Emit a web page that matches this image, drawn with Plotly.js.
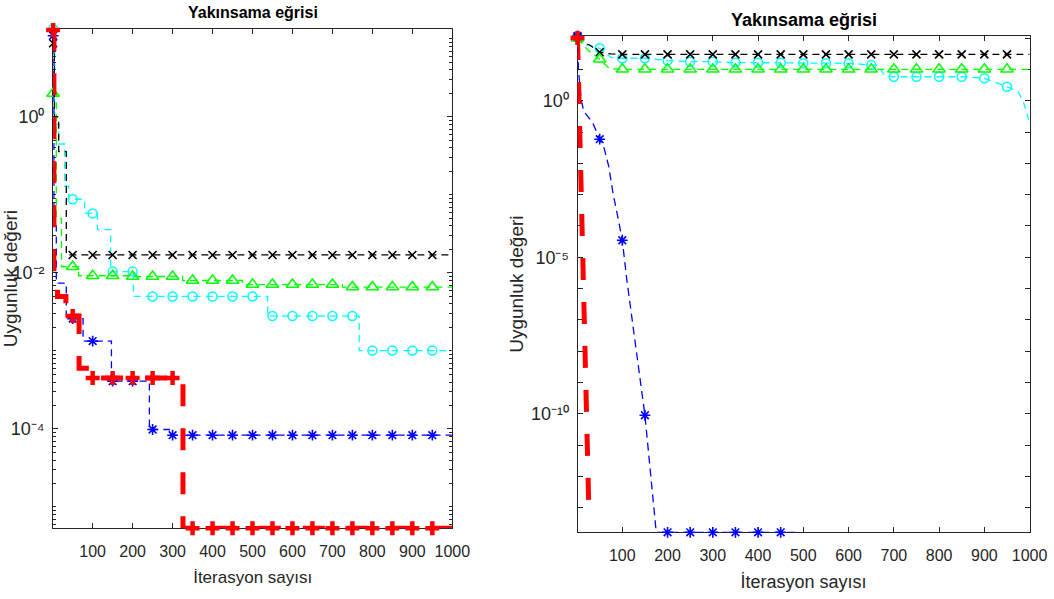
<!DOCTYPE html>
<html>
<head>
<meta charset="utf-8">
<script src="https://cdn.plot.ly/plotly-3.0.1.min.js"></script>
<style>
html,body{margin:0;padding:0;background:#fff;}
#chart{width:1054px;height:599px;}
</style>
</head>
<body>
<div id="chart"></div>
<script>
// ---------------- DATA ----------------
const chartTitle = 'Yakınsama eğrisi';
const xTitle = 'İterasyon sayısı';
const yTitle = 'Uygunluk değeri';
const iterTicks = [100, 200, 300, 400, 500, 600, 700, 800, 900, 1000];

// Left panel (step curves)
const blackL_x = [1, 4, 15, 34, 50, 100, 150, 200, 250, 300, 350, 400, 450, 500, 550, 600, 650, 700, 750, 800, 850, 900, 950, 1000];
const blackL_y = [8.8, 1.0, 0.36, 0.017, 0.017, 0.017, 0.017, 0.017, 0.017, 0.017, 0.017, 0.017, 0.017, 0.017, 0.017, 0.017, 0.017, 0.017, 0.017, 0.017, 0.017, 0.017, 0.017, 0.017];

const greenL_x = [1, 9, 22, 50, 65, 100, 150, 200, 250, 300, 325, 350, 400, 450, 475, 500, 550, 600, 650, 700, 725, 750, 800, 850, 900, 950, 1000];
const greenL_y = [2.0, 0.05, 0.012, 0.012, 0.0092, 0.0092, 0.0092, 0.0090, 0.0090, 0.0090, 0.0080, 0.0080, 0.0080, 0.0080, 0.0071, 0.0071, 0.0071, 0.0071, 0.0071, 0.0071, 0.0066, 0.0066, 0.0066, 0.0066, 0.0066, 0.0066, 0.0066];

const cyanL_x = [1, 5, 15, 30, 40, 50, 80, 100, 112, 145, 150, 200, 202, 250, 300, 350, 400, 450, 500, 538, 550, 600, 650, 700, 750, 767, 800, 850, 900, 950, 1000];
const cyanL_y = [13.4, 0.8, 0.45, 0.13, 0.089, 0.088, 0.058, 0.058, 0.036, 0.0104, 0.0104, 0.0104, 0.0050, 0.0050, 0.0050, 0.0050, 0.0050, 0.0050, 0.0050, 0.0028, 0.0028, 0.0028, 0.0028, 0.0028, 0.0028, 0.00101, 0.00101, 0.00101, 0.00101, 0.00101, 0.00101];

const blueL_x = [1, 3, 9, 34, 50, 76, 100, 147, 150, 200, 242, 250, 292, 300, 350, 400, 450, 500, 550, 600, 650, 700, 750, 800, 850, 900, 950, 1000];
const blueL_y = [11, 0.04, 0.0074, 0.0026, 0.0026, 0.00134, 0.00134, 0.00041, 0.00041, 0.00041, 0.0000985, 0.0000985, 0.0000832, 0.0000832, 0.0000832, 0.0000832, 0.0000832, 0.0000832, 0.0000832, 0.0000832, 0.0000832, 0.0000832, 0.0000832, 0.0000832, 0.0000832, 0.0000832, 0.0000832, 0.0000832];

const redL_x = [1, 3, 12, 33, 50, 66, 95, 100, 150, 200, 250, 300, 326, 350, 400, 450, 500, 550, 600, 650, 700, 750, 800, 850, 900, 950, 1000];
const redL_y = [13, 0.0075, 0.0050, 0.0028, 0.0028, 0.00060, 0.00045, 0.00045, 0.00045, 0.00045, 0.00045, 0.00045, 5.33e-6, 5.33e-6, 5.33e-6, 5.33e-6, 5.33e-6, 5.33e-6, 5.33e-6, 5.33e-6, 5.33e-6, 5.33e-6, 5.33e-6, 5.33e-6, 5.33e-6, 5.33e-6, 5.33e-6];

// Right panel
const blackR_x = [1, 10, 28, 50, 75, 100, 150, 200, 250, 300, 350, 400, 450, 500, 550, 600, 650, 700, 750, 800, 850, 900, 950, 1000];
const blackR_y = [105, 75, 60, 35, 31, 30, 30, 30, 30, 30, 30, 30, 30, 30, 30, 30, 30, 30, 30, 30, 30, 30, 30, 30];

const greenR_x = [1, 25, 50, 72, 100, 150, 200, 250, 300, 350, 400, 450, 500, 550, 600, 650, 700, 750, 800, 850, 900, 950, 1000];
const greenR_y = [98, 40, 21, 10.5, 10, 10, 10, 10, 10, 10, 10, 10, 10, 10, 10, 10, 10, 10, 10, 10, 10, 10, 10];

const cyanR_x = [1, 20, 50, 75, 100, 150, 200, 250, 300, 350, 400, 450, 500, 550, 600, 650, 665, 680, 700, 750, 800, 850, 900, 950, 975, 986, 997, 1000];
const cyanR_y = [110, 60, 47, 24, 22.6, 22.6, 19, 17.6, 17.6, 16.3, 16.3, 16.3, 15.6, 15.6, 15.6, 13.8, 13.5, 6.2, 5.8, 5.8, 5.8, 5.8, 5.2, 2.8, 1.9, 0.93, 0.27, 0.21];

const blueR_x = [1, 3, 9, 15, 25, 35, 50, 60, 70, 80, 90, 100, 110, 125, 150, 175, 200, 250, 300, 350, 400, 450, 490];
const blueR_y = [116, 10, 1.1, 0.45, 0.3, 0.19, 0.059, 0.03, 0.008, 1e-3, 2e-4, 3.5e-5, 1.9e-6, 4e-8, 9.1e-11, 1.67e-14, 1.67e-14, 1.67e-14, 1.67e-14, 1.67e-14, 1.67e-14, 1.67e-14, 1.67e-14];

const redR_x = [1, 4, 6, 9, 12, 15, 19, 26, 28];
const redR_y = [100, 1.6, 0.05, 2e-3, 2.5e-6, 6e-8, 1e-10, 1e-13, 4e-14];

const yTicksL = [1, 1e-2, 1e-4];
const yTickTextL = ['10\u2070', '10\u207B\u00B2', '10\u207B\u2074'];
const yTicksR = [1, 1e-5, 1e-10];
const yTickTextR = ['10\u2070', '10\u207B\u2075', '10\u207B\u00B9\u2070'];

// ---------------- STYLE / BUILD ----------------
const FONT_N = '"Liberation Sans Narrow", "Arial Narrow", "Liberation Sans", Arial, sans-serif';
const FONT = '"Liberation Sans", Arial, sans-serif';
const AXC = '#262626';

const isMarker = v => v === 1 || (v % 50 === 0 && v < 1000);

function series(x, y, color, symbol, msize, mlw, lw, dash, xa, ya, shape) {
  return {
    type: 'scatter', mode: 'lines+markers', x: x, y: y, xaxis: xa, yaxis: ya,
    line: {color: color, width: lw, dash: dash, shape: shape},
    marker: {
      symbol: symbol, color: color,
      size: x.map(v => isMarker(v) ? msize : 0),
      opacity: x.map(v => isMarker(v) ? 1 : 0),
      line: {color: color, width: mlw}
    },
    cliponaxis: false, showlegend: false, hoverinfo: 'skip'
  };
}

const thinDash = '7px,5px';
const redDash = '22px,22px';

const traces = [
  series(cyanL_x, cyanL_y, '#00FFFF', 'circle-open', 9, 1.5, 1.3, thinDash, 'x', 'y', 'hv'),
  series(greenL_x, greenL_y, '#00FF00', 'triangle-up-open', 11, 1.5, 1.3, thinDash, 'x', 'y', 'hv'),
  series(blackL_x, blackL_y, '#000000', 'x-thin-open', 8, 1.6, 1.3, thinDash, 'x', 'y', 'hv'),
  series(blueL_x, blueL_y, '#0000FF', 'asterisk-open', 9, 1.6, 1.3, thinDash, 'x', 'y', 'hv'),
  series(redL_x, redL_y, '#FF0000', 'cross-thin-open', 10, 4.5, 5, redDash, 'x', 'y', 'hv'),

  series(cyanR_x, cyanR_y, '#00FFFF', 'circle-open', 9, 1.5, 1.3, thinDash, 'x2', 'y2', 'linear'),
  series(blackR_x, blackR_y, '#000000', 'x-thin-open', 8, 1.6, 1.3, thinDash, 'x2', 'y2', 'linear'),
  series(greenR_x, greenR_y, '#00FF00', 'triangle-up-open', 11, 1.5, 1.3, thinDash, 'x2', 'y2', 'linear'),
  series(blueR_x, blueR_y, '#0000FF', 'asterisk-open', 9, 1.6, 1.3, '8px,5px', 'x2', 'y2', 'linear'),
  series(redR_x, redR_y, '#FF0000', 'cross-thin-open', 10, 4.5, 5, redDash, 'x2', 'y2', 'linear')
];

function logRange(arrs) {
  let mn = Infinity, mx = -Infinity;
  arrs.forEach(a => a.forEach(v => { if (v > 0) { mn = Math.min(mn, v); mx = Math.max(mx, v); } }));
  return [Math.log10(mn), Math.log10(mx)];
}
const rangeL = logRange([blackL_y, greenL_y, cyanL_y, blueL_y, redL_y]);
const rangeR = logRange([blackR_y, greenR_y, cyanR_y, blueR_y, redR_y]);

// minor tick positions (layout only)
const minorL = [];
for (let e = -6; e <= 1; e++) {
  for (let m = 1; m <= 9; m++) {
    if (m === 1 && e % 2 === 0) continue;
    minorL.push(m * Math.pow(10, e));
  }
}
const minorR = [];
for (let e = 2; e >= -14; e--) {
  if (e === 0 || e === -5 || e === -10) continue;
  minorR.push(Math.pow(10, e));
}

const W = 1054, H = 599;
const commonAxis = {
  showline: true, linecolor: AXC, linewidth: 1, mirror: 'ticks',
  ticks: 'inside', ticklen: 5, tickwidth: 1, tickcolor: AXC,
  showgrid: false, zeroline: false, layer: 'below traces',
  tickfont: {family: FONT_N, size: 16, color: AXC}
};

const layout = {
  width: W, height: H,
  margin: {l: 0, r: 0, t: 0, b: 0},
  paper_bgcolor: '#ffffff', plot_bgcolor: '#ffffff',
  showlegend: false,
  xaxis: Object.assign({}, commonAxis, {
    domain: [53.1 / W, 452.3 / W], range: [1, 1000], anchor: 'y',
    tickmode: 'array', tickvals: iterTicks, ticktext: iterTicks.map(String),
    ticklabelstandoff: 8,
    title: {text: xTitle, font: {family: FONT_N, size: 17, color: AXC}, standoff: 12}
  }),
  yaxis: Object.assign({}, commonAxis, {
    type: 'log', domain: [1 - 528.3 / H, 1 - 29 / H], range: rangeL, anchor: 'x',
    tickmode: 'array', tickvals: yTicksL, ticktext: yTickTextL,
    tickfont: {family: FONT_N, size: 18, color: AXC},
    minor: {tickmode: 'array', tickvals: minorL, ticks: 'inside', ticklen: 3, tickcolor: AXC, tickwidth: 1, showgrid: false},
    ticklabelstandoff: 4,
    title: {text: yTitle, font: {family: FONT, size: 19, color: AXC}, standoff: 2}
  }),
  xaxis2: Object.assign({}, commonAxis, {
    domain: [577.5 / W, 1029.6 / W], range: [1, 1000], anchor: 'y2',
    tickmode: 'array', tickvals: iterTicks, ticktext: iterTicks.map(String),
    ticklabelstandoff: 8,
    title: {text: xTitle, font: {family: FONT_N, size: 18, color: AXC}, standoff: 12}
  }),
  yaxis2: Object.assign({}, commonAxis, {
    type: 'log', domain: [1 - 532.3 / H, 1 - 36 / H], range: rangeR, anchor: 'x2',
    tickmode: 'array', tickvals: yTicksR, ticktext: yTickTextR,
    tickfont: {family: FONT_N, size: 18, color: AXC},
    minor: {tickmode: 'array', tickvals: minorR, ticks: 'inside', ticklen: 5, tickcolor: AXC, tickwidth: 1, showgrid: false},
    ticklabelstandoff: 4,
    title: {text: yTitle, font: {family: FONT, size: 19, color: AXC}, standoff: 2}
  }),
  annotations: [
    {text: '<b>' + chartTitle + '</b>', xref: 'paper', yref: 'paper', x: 253 / W, y: 1 - 12 / H,
     xanchor: 'center', yanchor: 'middle', showarrow: false, font: {family: FONT_N, size: 16, color: '#000'}},
    {text: '<b>' + chartTitle + '</b>', xref: 'paper', yref: 'paper', x: 804 / W, y: 1 - 20 / H,
     xanchor: 'center', yanchor: 'middle', showarrow: false, font: {family: FONT_N, size: 18, color: '#000'}}
  ]
};

Plotly.newPlot('chart', traces, layout, {staticPlot: true, displayModeBar: false});
</script>
</body>
</html>
